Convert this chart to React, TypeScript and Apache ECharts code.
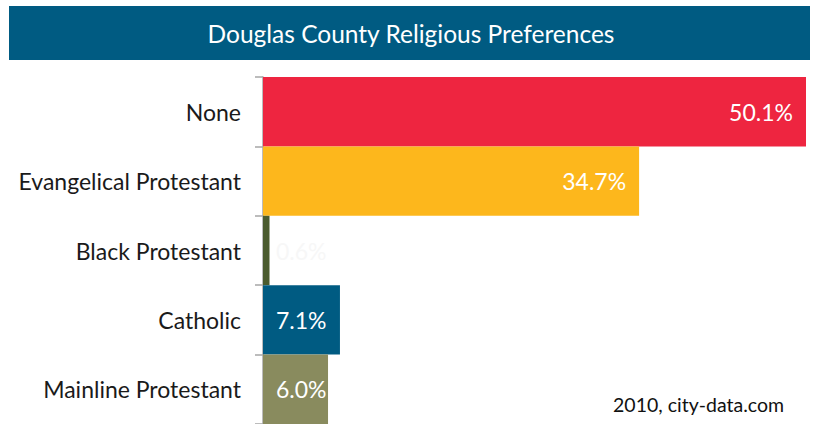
import React, { useEffect, useRef } from "react";
import * as echarts from "echarts";

const categories = ["None", "Evangelical Protestant", "Black Protestant", "Catholic", "Mainline Protestant"];
const values = [50.1, 34.7, 0.6, 7.1, 6.0];
const colors = ["#EE2540", "#FDB71C", "#4A5B2E", "#005B82", "#898B5E"];
const labelPositions = ["insideRight", "insideRight", "insideLeft", "insideLeft", "insideLeft"];
const titleText = "Douglas County Religious Preferences";
const sourceText = "2010, city-data.com";

const FONT = "Lato, 'Open Sans', sans-serif";

export default function App() {
  const ref = useRef<HTMLDivElement>(null);
  useEffect(() => {
    if (!ref.current) return;
    const chart = echarts.init(ref.current, undefined, { renderer: "svg" });
    chart.setOption({
      animation: false,
      backgroundColor: "#ffffff",
      grid: { left: 263, top: 77, width: 543, height: 350, containLabel: false },
      xAxis: {
        type: "value",
        min: 0,
        max: 50.1,
        show: false,
      },
      yAxis: {
        type: "category",
        inverse: true,
        data: categories,
        axisLine: { show: true, lineStyle: { color: "#a6a6a6", width: 1.5 } },
        axisTick: { show: true, length: 8, lineStyle: { color: "#a6a6a6", width: 1.5 } },
        axisLabel: { margin: 22, color: "#1a1a1a", fontSize: 23, fontFamily: FONT },
      },
      series: [
        {
          type: "bar",
          barWidth: "100%",
          data: values.map((v, i) => ({
            value: v,
            itemStyle: { color: colors[i] },
            label: {
              position: labelPositions[i],
              distance: labelPositions[i] === "insideRight" ? 13 : 13,
              color: i === 2 ? "#f7f7f7" : "#ffffff",
            },
          })),
          label: {
            show: true,
            fontSize: 23,
            fontFamily: FONT,
            formatter: (p: any) => p.value.toFixed(1) + "%",
          },
        },
      ],
      graphic: [
        {
          type: "rect",
          shape: { x: 9, y: 6, width: 801, height: 54 },
          style: { fill: "#005B82" },
          silent: true,
        },
        {
          type: "text",
          x: 411,
          y: 33,
          style: {
            text: titleText,
            fill: "#ffffff",
            fontSize: 24.5,
            fontFamily: FONT,
            align: "center",
            verticalAlign: "middle",
          },
        },
        {
          type: "text",
          x: 784,
          y: 404,
          style: {
            text: sourceText,
            fill: "#111111",
            fontSize: 19.5,
            fontFamily: FONT,
            align: "right",
            verticalAlign: "middle",
          },
        },
      ],
    });
    return () => chart.dispose();
  }, []);
  return (
    <div
      ref={ref}
      style={{ position: "fixed", left: 0, top: 0, width: 817, height: 424 }}
    />
  );
}
